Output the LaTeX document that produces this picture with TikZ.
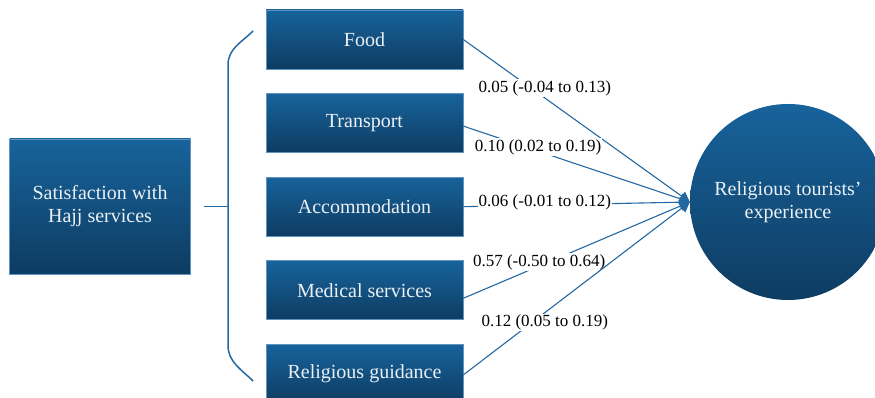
\documentclass[tikz,border=0pt]{standalone}
\usepackage{fontspec}
\setmainfont{Liberation Serif}
\usetikzlibrary{positioning,arrows.meta}

\definecolor{boxtop}{HTML}{17639B}
\definecolor{boxbot}{HTML}{0E3C62}
\definecolor{boxline}{HTML}{5E93C2}
\definecolor{linkcol}{HTML}{2468A2}
\definecolor{boxtext}{HTML}{EAF0F5}

\tikzset{
  blue box/.style={rectangle, top color=boxtop, bottom color=boxbot, draw=boxline,
    line width=0.6pt, text=boxtext, align=center,
    font=\fontsize{20}{23}\selectfont},
  service/.style={blue box, minimum width=197pt, minimum height=59pt},
  outcome/.style={circle, top color=boxtop, bottom color=boxbot, draw=none,
    text=boxtext, align=center, minimum size=196pt, inner sep=0pt,
    font=\fontsize{20}{23}\selectfont},
  link/.style={draw=linkcol, line width=1.1pt, -{Triangle[length=10pt,width=11pt]}},
  coef/.style={fill=white, inner sep=1pt, text=black, font=\fontsize{17}{19}\selectfont},
}

\begin{document}
\begin{tikzpicture}[x=1pt, y=1pt]
  \clip (0,0) rectangle (875,398);
  \useasboundingbox (0,0) rectangle (875,398);

  \node[blue box, minimum width=181pt, minimum height=135pt] (sat) at (100,191.5)
    {Satisfaction with\\Hajj services};

  \node[service] (food) at (364.5,358.5) {Food};
  \node[service, below=24pt of food] (transport) {Transport};
  \node[service, below=24pt of transport] (accom) {Accommodation};
  \node[service, below=24pt of accom] (medical) {Medical services};
  \node[service, below=24pt of medical] (guidance) {Religious guidance};

  \node[outcome] (exp) at (788,196) {Religious tourists’\\experience};
  \coordinate (tip) at (exp.west);

  % Brace grouping the services
  \coordinate (brace-top) at (253,367);
  \coordinate (brace-bot) at (253,17);
  \draw[linkcol, line width=1.5pt] (brace-top) to[out=225, in=90] (228,333)
    -- (228,53) to[out=-90, in=135] (brace-bot);
  \draw[linkcol, line width=1.5pt] ([xshift=13pt]sat.east) -- (228,191.5);

  % Paths to the outcome
  \draw[link] (food.east) -- node[coef, pos=0.36, yshift=10pt] {0.05 (-0.04 to 0.13)} (tip);
  \draw[link] ([yshift=-3pt]transport.east) -- node[coef, pos=0.33, yshift=4pt] {0.10 (0.02 to 0.19)} (tip);
  \draw[link] (accom.east) -- node[coef, pos=0.36, yshift=3pt] {0.06 (-0.01 to 0.12)} (tip);
  \draw[link] ([yshift=-8pt]medical.east) -- node[coef, pos=0.335, yshift=4pt] {0.57 (-0.50 to 0.64)} (tip);
  \draw[link] ([yshift=-1pt]guidance.east) -- node[coef, pos=0.36, yshift=-10pt] {0.12 (0.05 to 0.19)} (tip);
\end{tikzpicture}
\end{document}
